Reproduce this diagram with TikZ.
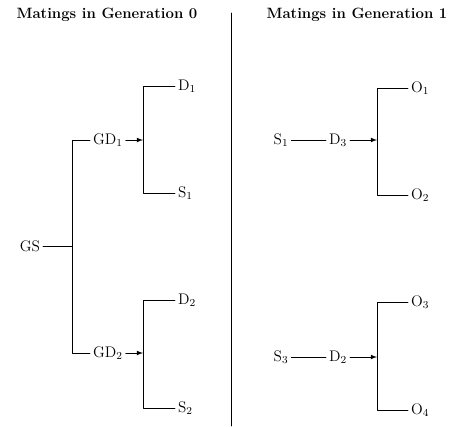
\documentclass[tikz,border=0pt]{standalone}
\usepackage{tikz}
\usetikzlibrary{arrows}

\begin{document}
\begin{tikzpicture}[line cap=round,line join=round,>=latex,x=0.75pt,y=-0.75pt,
    line width=0.6pt,
    lbl/.style={inner sep=2pt,font=\fontsize{11.5}{13}\selectfont},
    ttl/.style={inner sep=0pt,font=\fontsize{11.2}{13}\selectfont\bfseries}]
    \useasboundingbox (0,0) rectangle (454,426);
    % titles and divider
    \node[ttl] (t0) at (107,15) {Matings in Generation 0};
    \node[ttl] (t1) at (357,15) {Matings in Generation 1};
    \coordinate (divtop) at (231,13);
    \coordinate (divbot) at (231,426);
    \draw (divtop) -- (divbot);
    % generation 0
    \node[lbl] (gs) at (30,246) {GS};
    \coordinate (j0) at (72,246);
    \coordinate (j0t) at (72,140);
    \coordinate (j0b) at (72,353);
    \node[lbl,anchor=west] (gd1) at (90,140) {GD$_1$};
    \node[lbl,anchor=west] (gd2) at (90,353) {GD$_2$};
    \draw (gs) -- (j0);
    \draw (gd1) -| (j0t) -- (j0b) -| (gd2.west);
    \coordinate (j1) at (143,140);
    \coordinate (j1t) at (143,86);
    \coordinate (j1b) at (143,193);
    \node[lbl,anchor=west] (d1) at (175,86) {D$_1$};
    \node[lbl,anchor=west] (s1) at (175,193) {S$_1$};
    \draw [->] (gd1) -- (j1);
    \draw (d1) -| (j1t) -- (j1b) -- (s1);
    \coordinate (j2) at (143,353);
    \coordinate (j2t) at (143,300);
    \coordinate (j2b) at (143,408);
    \node[lbl,anchor=west] (d2) at (175,300) {D$_2$};
    \node[lbl,anchor=west] (s2) at (175,408) {S$_2$};
    \draw [->] (gd2) -- (j2);
    \draw (d2) -| (j2t) -- (j2b) -- (s2);
    % generation 1
    \node[lbl] (s1b) at (281,140) {S$_1$};
    \node[lbl] (d3) at (338,140) {D$_3$};
    \coordinate (k1) at (377,140);
    \coordinate (k1t) at (377,88);
    \coordinate (k1b) at (377,195);
    \node[lbl,anchor=west] (o1) at (408,88) {O$_1$};
    \node[lbl,anchor=west] (o2) at (408,195) {O$_2$};
    \draw (s1b) -- (d3);
    \draw [->] (d3) -- (k1);
    \draw (o1) -| (k1t) -- (k1b) -- (o2);
    \node[lbl] (s3) at (281,357) {S$_3$};
    \node[lbl] (d2b) at (338,357) {D$_2$};
    \coordinate (k2) at (377,357);
    \coordinate (k2t) at (377,302);
    \coordinate (k2b) at (377,410);
    \node[lbl,anchor=west] (o3) at (408,302) {O$_3$};
    \node[lbl,anchor=west] (o4) at (408,410) {O$_4$};
    \draw (s3) -- (d2b);
    \draw [->] (d2b) -- (k2);
    \draw (o3) -| (k2t) -- (k2b) -- (o4);
\end{tikzpicture}
\end{document}
